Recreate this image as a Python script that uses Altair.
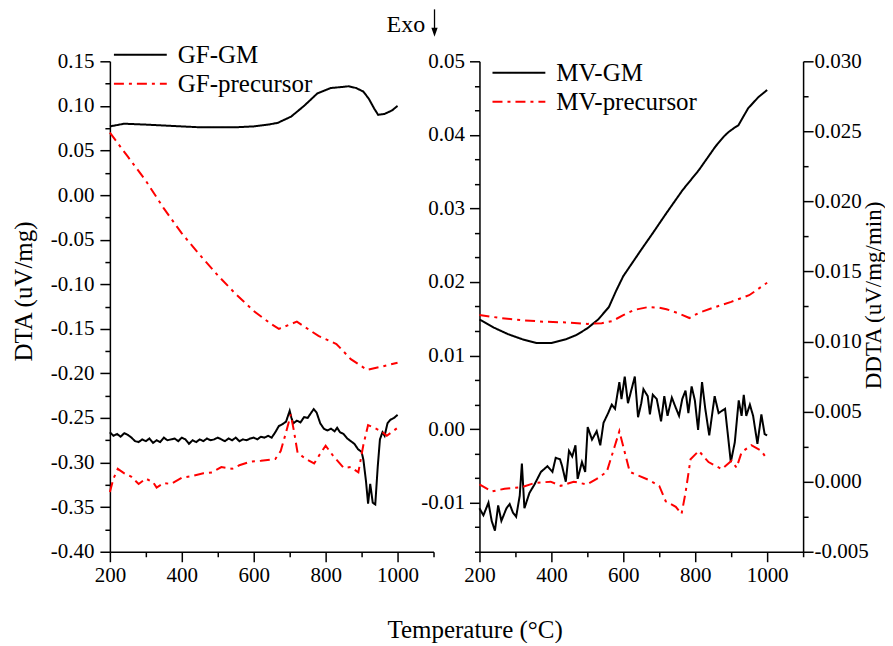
import altair as alt
import pandas as pd

FONT = "Liberation Serif"

# ---------------- Left panel (GF) ----------------
gf_gm_dta_T = [200, 240, 300, 350, 400, 450, 500, 550, 600, 640, 667, 704, 740, 777, 814, 840, 864, 885, 905, 920, 935, 946, 964, 985, 1000]
gf_gm_dta = [0.077, 0.080, 0.079, 0.078, 0.077, 0.076, 0.076, 0.076, 0.077, 0.079, 0.081, 0.088, 0.100, 0.114, 0.120, 0.121, 0.122, 0.120, 0.116, 0.108, 0.097, 0.090, 0.091, 0.095, 0.100]

gf_pre_dta_T = [200, 250, 300, 350, 400, 450, 500, 550, 600, 650, 670, 720, 780, 830, 870, 915, 960, 1000]
gf_pre_dta = [0.070, 0.043, 0.016, -0.015, -0.043, -0.067, -0.090, -0.111, -0.130, -0.145, -0.150, -0.142, -0.158, -0.167, -0.184, -0.196, -0.192, -0.188]

gf_gm_ddta_T = [200, 210, 220, 230, 240, 250, 260, 270, 280, 290, 300, 310, 320, 330, 340, 350, 360, 370, 380, 390,
                400, 410, 420, 430, 440, 450, 460, 470, 480, 490, 500, 510, 520, 530, 540, 550, 560, 570, 580, 590,
                600, 610, 620, 630, 640, 650, 660, 670, 680, 690, 700, 705, 710, 720, 730, 740, 750, 760, 767, 775,
                785, 795, 805, 815, 825, 832, 840, 850, 860, 870, 880, 890, 900, 905, 912, 918, 924, 931, 938, 945,
                951, 958, 964, 972, 980, 990, 1000]
gf_gm_ddta = [-0.266, -0.270, -0.268, -0.271, -0.267, -0.269, -0.272, -0.276, -0.277, -0.274, -0.276, -0.273, -0.278, -0.275, -0.277, -0.272, -0.275, -0.274, -0.273, -0.276,
              -0.272, -0.274, -0.279, -0.275, -0.277, -0.274, -0.276, -0.273, -0.275, -0.274, -0.272, -0.274, -0.276, -0.273, -0.275, -0.272, -0.276, -0.274, -0.275, -0.273,
              -0.272, -0.274, -0.271, -0.272, -0.270, -0.272, -0.266, -0.259, -0.257, -0.254, -0.242, -0.250, -0.256, -0.253, -0.255, -0.249, -0.250, -0.244, -0.240, -0.244,
              -0.256, -0.262, -0.264, -0.262, -0.265, -0.261, -0.266, -0.268, -0.273, -0.276, -0.279, -0.285, -0.288, -0.297, -0.320, -0.346, -0.324, -0.345, -0.347, -0.304,
              -0.274, -0.266, -0.270, -0.256, -0.252, -0.250, -0.2465]

gf_pre_ddta_T = [200, 210, 222, 240, 260, 280, 300, 320, 330, 350, 370, 400, 430, 460, 484, 510, 540, 560, 590, 620,
                 660, 675, 690, 703, 712, 722, 745, 768, 785, 800, 820, 850, 870, 891, 905, 918, 940, 955, 970, 1000]
gf_pre_ddta = [-0.333, -0.318, -0.307, -0.312, -0.316, -0.324, -0.318, -0.322, -0.328, -0.323, -0.324, -0.317, -0.315, -0.312, -0.311, -0.305, -0.307, -0.303, -0.299, -0.298,
               -0.296, -0.287, -0.266, -0.246, -0.265, -0.289, -0.296, -0.301, -0.290, -0.281, -0.292, -0.306, -0.305, -0.311, -0.280, -0.258, -0.262, -0.265, -0.270, -0.261]

# ---------------- Right panel (MV) ----------------
mv_gm_dta_T = [200, 240, 280, 320, 360, 400, 440, 470, 500, 530, 560, 580, 600, 625, 650, 680, 719, 765, 810, 856, 880, 893, 910, 920, 947, 975, 1000]
mv_gm_dta = [0.0149, 0.0138, 0.0129, 0.0122, 0.0117, 0.0117, 0.0122, 0.0128, 0.0137, 0.0149, 0.0166, 0.0188, 0.0208, 0.0226, 0.0244, 0.0265, 0.0293, 0.0325, 0.0352, 0.0384, 0.0398, 0.0404, 0.0410, 0.0413, 0.0436, 0.0451, 0.0461]

mv_pre_dta_T = [200, 260, 320, 380, 440, 500, 540, 570, 600, 630, 670, 700, 720, 750, 784, 810, 850, 900, 950, 1000]
mv_pre_dta = [0.0155, 0.0151, 0.0148, 0.0146, 0.0145, 0.0143, 0.0144, 0.0147, 0.0155, 0.0162, 0.0166, 0.0165, 0.0163, 0.0158, 0.0151, 0.0158, 0.0165, 0.0173, 0.0182, 0.0199]

mv_gm_ddta_T = [200, 211, 225, 234, 243, 252, 261, 275, 284, 293, 302, 312, 318, 325, 339, 353, 371, 389, 403, 412,
                424, 430, 440, 449, 458, 467, 473, 485, 494, 501, 513, 526, 536, 545, 558, 568, 577, 589, 595, 604,
                613, 621, 632, 641, 650, 656, 668, 674, 682, 693, 705, 714, 723, 735, 744, 755, 764, 773, 781, 790,
                799, 808, 819, 828, 839, 854, 865, 883, 899, 910, 921, 929, 935, 942, 952, 961, 973, 984, 993, 1000]
mv_gm_ddta = [-0.0019, -0.0024, -0.0015, -0.0028, -0.0035, -0.0017, -0.0028, -0.0019, -0.0016, -0.0022, -0.0025, -0.0010, 0.0013, -0.0019, -0.0008, -0.0002, 0.0007, 0.0011, 0.0007, 0.0017,
              0.0016, 0.0011, 0.0000, 0.0022, 0.0018, 0.0026, 0.0002, 0.0014, 0.0007, 0.0039, 0.0030, 0.0036, 0.0026, 0.0042, 0.0049, 0.0055, 0.0052, 0.0071, 0.0059, 0.0075,
              0.0056, 0.0064, 0.0075, 0.0046, 0.0056, 0.0066, 0.0061, 0.0048, 0.0062, 0.0059, 0.0043, 0.0061, 0.0047, 0.0060, 0.0054, 0.0047, 0.0059, 0.0065, 0.0049, 0.0068,
              0.0058, 0.0037, 0.0071, 0.0052, 0.0033, 0.0061, 0.0049, 0.0052, 0.0014, 0.0028, 0.0058, 0.0047, 0.0062, 0.0047, 0.0055, 0.0047, 0.0027, 0.0048, 0.0034, 0.0033]

mv_pre_ddta_T = [200, 234, 270, 316, 353, 398, 426, 462, 499, 526, 554, 577, 589, 604, 618, 636, 673, 700, 718, 746,
                 762, 773, 787, 810, 837, 874, 901, 915, 929, 956, 984, 1000]
mv_pre_ddta = [-0.0002, -0.0007, -0.0005, -0.0004, -0.0001, 0.0000, -0.0003, 0.0000, -0.0002, 0.0002, 0.0007, 0.0026, 0.0036, 0.0021, 0.0007, 0.0005, 0.0001, -0.0003, -0.0014, -0.0018,
               -0.0023, -0.0008, 0.0016, 0.0022, 0.0014, 0.0009, 0.0015, 0.0010, 0.0021, 0.0026, 0.0022, 0.0016]

# axis tick values
x_ticks = [200, 300, 400, 500, 600, 700, 800, 900, 1000, 1100]
gf_y_ticks = [round(-0.40 + 0.025 * i, 3) for i in range(23)]
mv_y_ticks = [round(0.05 - i * 0.01 / 3, 6) for i in range(21)]
mv_y2_ticks = [round(-0.005 + 0.0025 * i, 4) for i in range(15)]


def frame(series, curve, T, v):
    return pd.DataFrame({"T": T, "v": v, "series": series, "curve": curve})


gf_top = pd.concat([frame("GF-GM", "gm_dta", gf_gm_dta_T, gf_gm_dta),
                    frame("GF-precursor", "pre_dta", gf_pre_dta_T, gf_pre_dta),
                    frame("GF-GM", "gm_ddta", gf_gm_ddta_T, gf_gm_ddta),
                    frame("GF-precursor", "pre_ddta", gf_pre_ddta_T, gf_pre_ddta)])
mv_top = pd.concat([frame("MV-GM", "gm_dta", mv_gm_dta_T, mv_gm_dta),
                    frame("MV-precursor", "pre_dta", mv_pre_dta_T, mv_pre_dta)])
mv_bot = pd.concat([frame("MV-GM", "gm_ddta", mv_gm_ddta_T, mv_gm_ddta),
                    frame("MV-precursor", "pre_ddta", mv_pre_ddta_T, mv_pre_ddta)])

W, H = 324, 491
MINUS_FIX = "replace(format(datum.value, '{f}'), '\u2212', '-')"


def tick_dash(test):
    # major ticks drawn full length, minor ticks cut to half by a dash pattern
    return {"condition": {"test": test, "value": [20, 0]}, "value": [5, 30]}


def x_axis():
    test = "datum.value % 200 === 0"
    return alt.Axis(values=x_ticks, title=None, grid=False, labelFlush=False,
                    labelExpr=f"{test} ? datum.label : ''",
                    tickSize=10, tickDash=tick_dash(test), labelPadding=3, format="d")


def legend(x, y):
    return alt.Legend(orient="none", legendX=x, legendY=y, title=None, symbolType="M-5,0H5",
                      symbolSize=112, symbolStrokeWidth=2, labelFont=FONT, labelFontSize=25,
                      labelColor="black", labelOffset=25, rowPadding=3, padding=0, labelLimit=400)


dash_range = [[1, 0], [10, 5, 3, 5]]
color_range = ["#000000", "#ff0000"]

xs = alt.X("T:Q", scale=alt.Scale(domain=[200, 1100], nice=False, zero=False), axis=x_axis())

# Left panel
gf_test = "abs(round(datum.value*1000)) % 50 === 0"
gf_lines = alt.Chart(gf_top).mark_line(strokeWidth=2).encode(
    x=xs,
    y=alt.Y("v:Q", scale=alt.Scale(domain=[-0.40, 0.15], nice=False, zero=False),
            axis=alt.Axis(values=gf_y_ticks, title="DTA (uV/mg)", grid=False, labelFlush=False,
                          labelExpr=f"{gf_test} ? {MINUS_FIX.format(f='.2f')} : ''",
                          tickSize=10, tickDash=tick_dash(gf_test),
                          labelPadding=6, titlePadding=14, titleY=230)),
    color=alt.Color("series:N", scale=alt.Scale(domain=["GF-GM", "GF-precursor"], range=color_range),
                    legend=legend(18, -19)),
    strokeDash=alt.StrokeDash("series:N", scale=alt.Scale(domain=["GF-GM", "GF-precursor"], range=dash_range),
                              legend=legend(18, -19)),
    detail="curve:N",
)

exo_text = alt.Chart(pd.DataFrame({"t": ["Exo"]})).mark_text(
    font=FONT, fontSize=24, align="left", baseline="alphabetic", color="black"
).encode(text="t:N", x=alt.value(277), y=alt.value(-29))
exo_shaft = alt.Chart(pd.DataFrame({"t": ["Exo"]})).mark_rule(color="black", strokeWidth=1.3).encode(
    x=alt.value(325), y=alt.value(-52), y2=alt.value(-32))
exo_head = alt.Chart(pd.DataFrame({"t": ["Exo"]})).mark_point(
    shape="M-0.7,-1L0.7,-1L0,1Z", filled=True, color="black", size=81, opacity=1
).encode(x=alt.value(325), y=alt.value(-29))

left = alt.layer(gf_lines, exo_text, exo_shaft, exo_head).properties(width=W, height=H)

# Right panel
mv_test = "abs(datum.value*100 - round(datum.value*100)) < 0.001"
mv2_test = "abs(datum.value*200 - round(datum.value*200)) < 0.001"
mv_color = alt.Color("series:N", scale=alt.Scale(domain=["MV-GM", "MV-precursor"], range=color_range),
                     legend=legend(27, -1))
mv_dash = alt.StrokeDash("series:N", scale=alt.Scale(domain=["MV-GM", "MV-precursor"], range=dash_range),
                         legend=legend(27, -1))

mv_top_lines = alt.Chart(mv_top).mark_line(strokeWidth=2).encode(
    x=xs,
    y=alt.Y("v:Q", scale=alt.Scale(domain=[-0.01667, 0.05], nice=False, zero=False),
            axis=alt.Axis(values=mv_y_ticks, title=None, grid=False, labelFlush=False,
                          labelExpr=f"{mv_test} ? {MINUS_FIX.format(f='.2f')} : ''",
                          tickSize=10, tickDash=tick_dash(mv_test), labelPadding=5)),
    color=mv_color, strokeDash=mv_dash, detail="curve:N",
)
mv_bot_lines = alt.Chart(mv_bot).mark_line(strokeWidth=2).encode(
    x=xs,
    y=alt.Y("v:Q", scale=alt.Scale(domain=[-0.005, 0.030], nice=False, zero=False),
            axis=alt.Axis(orient="right", values=mv_y2_ticks, title="DDTA (uV/mg/min)", grid=False,
                          labelFlush=False,
                          labelExpr=f"{mv2_test} ? {MINUS_FIX.format(f='.3f')} : ''",
                          tickSize=10, tickDash=tick_dash(mv2_test),
                          labelPadding=1, titleAngle=270, titleBaseline="middle", titleAlign="center",
                          titleX=70, titleY=234, titleFontSize=23)),
    color=mv_color, strokeDash=mv_dash, detail="curve:N",
)
right = alt.layer(mv_top_lines, mv_bot_lines).resolve_scale(y="independent").properties(width=W, height=H)

chart = alt.hconcat(left, right, spacing=46, bounds="flush").resolve_scale(
    color="independent", strokeDash="independent"
).properties(
    title=alt.TitleParams("Temperature (°C)", orient="bottom", anchor="middle", font=FONT, fontSize=25,
                          fontWeight="normal", color="black", offset=32, dx=27),
    padding={"left": 3, "top": 0, "right": 0, "bottom": 0},
    background="white",
).configure_view(stroke=None).configure_axis(
    labelFont=FONT, labelFontSize=21, labelColor="black", titleFont=FONT, titleFontSize=25,
    titleFontWeight="normal", titleColor="black", domainColor="black", domainWidth=1.5,
    tickColor="black", tickWidth=1.5,
)

chart.save("out.html", embed_options={"renderer": "svg", "actions": False})
